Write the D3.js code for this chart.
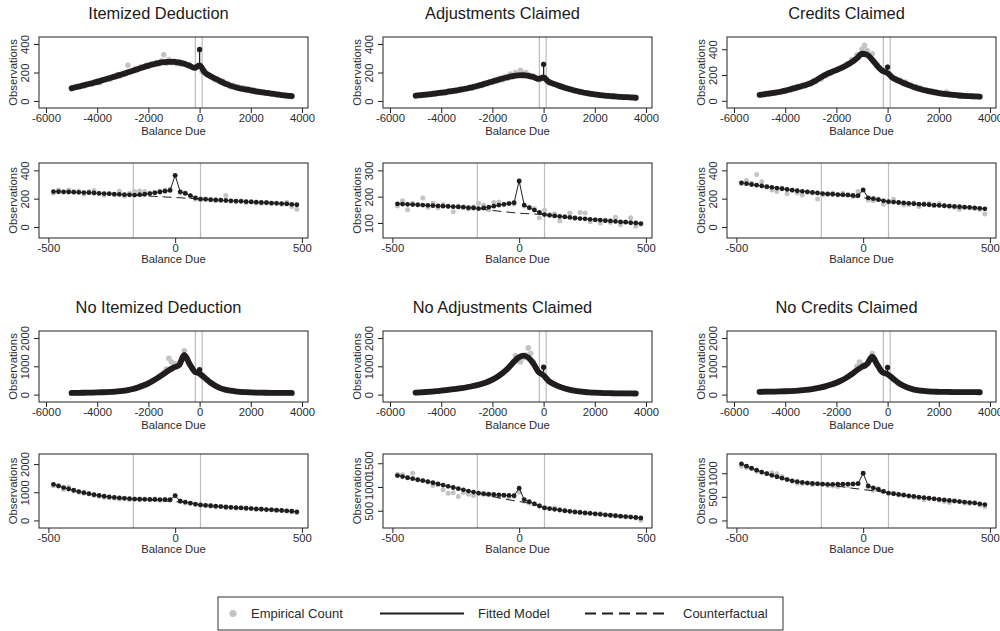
<!DOCTYPE html>
<html>
<head>
<meta charset="utf-8">
<script src="https://cdn.jsdelivr.net/npm/d3@7"></script>
<style>
  body { margin: 0; background: #fff; }
  svg { display: block; font-family: "Liberation Sans", Arial, sans-serif; }
</style>
</head>
<body>
<div id="chart"></div>
<script>
// ---- data ----
const titles = ["Itemized Deduction", "Adjustments Claimed", "Credits Claimed",
                "No Itemized Deduction", "No Adjustments Claimed", "No Credits Claimed"];

// bins for the full range (fitted every 200, empirical every 100)
const wideFitX = [-5000,-4800,-4600,-4400,-4200,-4000,-3800,-3600,-3400,-3200,-3000,-2800,-2600,-2400,-2200,-2000,-1800,-1600,-1400,-1200,-1000,-800,-600,-400,-200,
  0,200,400,600,800,1000,1200,1400,1600,1800,2000,2200,2400,2600,2800,3000,3200,3400,3600];
const wideEmpX = [-5000,-4900,-4800,-4700,-4600,-4500,-4400,-4300,-4200,-4100,-4000,-3900,-3800,-3700,-3600,-3500,-3400,-3300,-3200,-3100,
  -3000,-2900,-2800,-2700,-2600,-2500,-2400,-2300,-2200,-2100,-2000,-1900,-1800,-1700,-1600,-1500,-1400,-1300,-1200,-1100,
  -1000,-900,-800,-700,-600,-500,-400,-300,-200,-100,0,100,200,300,400,500,600,700,800,900,1000,1100,1200,1300,1400,1500,
  1600,1700,1800,1900,2000,2100,2200,2300,2400,2500,2600,2700,2800,2900,3000,3100,3200,3300,3400,3500,3600];
// bins for the window around zero
const zoomX = [-480,-460,-440,-420,-400,-380,-360,-340,-320,-300,-280,-260,-240,-220,-200,-180,-160,-140,-120,-100,-80,-60,-40,-20,
  0,20,40,60,80,100,120,140,160,180,200,220,240,260,280,300,320,340,360,380,400,420,440,460,480];
const cfX = [-160,-140,-120,-100,-80,-60,-40,-20,0,20,40,60,80,100];
const cutoffs = [-165, 100];

const wideTicksX = [-6000, -4000, -2000, 0, 2000, 4000];
const zoomTicksX = [-500, 0, 500];

// Itemized Deduction
const itemWideFit = [90,98,107,116,125,134,145,156,167,178,189,201,213,225,237,248,258,266,272,275,274,270,262,248,232,
  250,200,178,158,139,122,108,97,88,81,75,68,62,57,52,47,42,38,35];
const itemWideEmp = [85,95,105,98,112,105,120,125,118,135,140,130,150,148,160,152,170,168,185,175,
  190,200,250,205,215,228,220,240,235,250,245,260,255,270,262,280,325,265,290,268,
  280,262,275,258,265,250,255,240,230,245,360,205,210,185,175,170,150,155,135,140,118,
  125,100,110,95,100,85,92,78,85,72,78,65,70,60,65,55,58,50,52,45,48,40,42,36,38,30];
const itemSpike = 362;
const itemZoomFit = [250,249,248,247,246,245,243,242,240,238,236,234,232,230,228,227,225,228,231,236,241,247,253,258,
  365,248,237,222,205,197,195,193,191,189,187,185,183,181,179,177,175,173,171,169,167,165,163,160,157];
const itemZoomEmp = [240,262,245,262,250,255,232,250,258,236,225,240,228,252,218,238,250,255,250,240,245,255,262,268,
  360,240,242,215,195,193,200,190,185,188,222,182,178,185,172,180,170,168,175,165,170,160,175,145,125];
const itemZoomCf = [225,222,220,218,216,214,212,210,208,206,204,202,200,197];

// Adjustments Claimed
const adjWideFit = [37,41,45,49,53,58,63,69,75,81,88,96,105,115,126,137,148,158,167,175,180,181,177,168,155,
  165,135,120,107,95,84,74,66,58,52,47,42,38,35,32,29,27,25,23];
const adjWideEmp = [35,40,38,45,42,48,45,55,50,58,55,62,60,68,66,73,72,80,78,86,
  85,95,92,103,100,112,110,125,120,135,130,148,142,160,150,172,160,190,170,200,
  185,215,175,200,185,170,175,160,150,165,258,145,130,130,118,115,105,102,95,88,85,
  78,72,70,65,62,56,55,50,48,45,44,40,40,36,37,33,33,30,31,28,29,26,27,24,25,22];
const adjSpike = 258;
const adjZoomFit = [173,172,171,170,169,168,167,166,165,164,163,162,161,160,158,157,155,157,160,164,168,171,174,177,
  260,168,158,149,140,132,129,127,125,123,121,119,117,116,114,112,111,109,108,106,104,103,101,100,98];
const adjZoomEmp = [165,185,150,175,170,195,160,175,158,170,165,143,165,160,153,162,175,168,150,178,180,170,175,172,
  258,165,160,155,120,148,132,135,108,125,138,118,140,138,105,112,100,110,102,122,93,105,120,88,95];
const adjZoomCf = [155,152,149,147,145,143,141,139,137,136,135,134,133,132];

// Credits Claimed
const credWideFit = [46,51,57,63,70,79,89,100,111,122,137,158,182,205,222,238,255,275,300,330,365,358,318,270,232,
  215,178,158,140,123,108,95,84,75,67,60,54,49,45,41,38,36,34,33];
const credWideEmp = [45,50,48,55,52,60,58,68,65,75,72,85,82,98,95,112,105,125,118,135,
  130,155,150,175,170,200,195,220,215,235,240,250,260,270,285,290,320,310,355,345,
  400,430,390,345,365,300,280,255,230,240,262,200,180,175,155,160,135,145,120,125,105,
  110,92,98,82,88,72,78,65,70,58,62,52,68,48,50,44,46,40,42,36,38,35,36,32,34,28];
const credSpike = 262;
const credZoomFit = [312,306,300,295,290,285,280,275,270,265,260,256,252,248,244,240,236,233,231,229,227,225,223,222,
  262,206,200,193,185,179,176,173,170,167,164,161,159,157,154,152,150,147,145,143,140,138,135,132,128];
const credZoomEmp = [305,330,310,370,320,280,262,250,275,235,260,240,225,245,240,198,228,232,240,225,238,230,215,250,
  258,190,185,195,160,175,195,172,155,158,170,145,165,168,150,165,150,148,140,125,140,135,130,125,92];
const credZoomCf = [236,233,229,226,222,218,214,210,206,202,197,191,185,179];

// No Itemized Deduction
const noItemWideFit = [60,62,65,68,72,77,83,90,100,112,130,160,200,255,320,400,500,610,730,860,960,1040,1400,1100,820,
  740,600,440,320,230,175,140,115,98,86,78,72,68,65,63,61,60,59,58];
const noItemWideEmp = [50,55,58,60,60,62,65,68,70,72,75,78,82,86,90,95,102,108,115,125,
  140,150,170,185,210,230,270,300,340,370,420,460,520,560,640,700,780,900,1280,1150,
  1100,1050,1120,1250,1550,1300,1050,950,800,780,880,680,560,500,430,370,310,270,230,200,170,
  150,135,120,110,100,95,88,82,78,75,72,70,68,65,62,60,58,57,55,55,53,52,50,50,48,45];
const noItemSpike = 880;
const noItemZoomFit = [1280,1220,1165,1115,1070,1025,985,950,915,885,858,835,815,798,783,770,758,752,748,745,742,740,738,740,
  880,680,650,615,580,550,535,520,505,490,477,465,453,442,431,420,408,397,386,375,364,352,340,325,305];
const noItemZoomEmp = [1230,1250,1100,1180,1040,1000,960,940,880,860,820,800,790,760,790,740,760,750,760,730,760,720,750,720,
  870,690,620,600,560,540,520,510,480,500,460,470,430,450,420,430,390,410,380,390,350,360,330,320,270];
const noItemZoomCf = [758,745,732,720,708,697,686,675,665,655,640,610,578,550];

// No Adjustments Claimed
const noAdjWideFit = [70,80,92,105,120,140,160,182,205,230,260,295,335,385,445,530,630,760,920,1120,1300,1380,1310,1100,800,
  680,480,370,290,225,175,140,112,92,78,68,60,54,50,46,44,42,41,40];
const noAdjWideEmp = [65,72,78,85,90,96,102,110,118,128,135,148,155,170,178,192,200,218,225,245,
  255,280,290,318,330,360,380,415,440,490,520,570,620,690,750,830,900,1000,1150,1380,
  1200,1150,1300,1400,1650,1450,1150,950,800,750,960,560,470,410,360,320,280,250,220,195,170,
  155,135,125,110,100,90,84,76,72,66,62,58,56,52,50,48,46,45,44,43,42,41,40,40,39,38];
const noAdjSpike = 970;
const noAdjZoomFit = [1240,1220,1195,1175,1155,1135,1115,1090,1065,1040,1015,990,965,940,915,893,872,860,850,842,835,828,822,818,
  975,735,690,645,600,560,545,530,515,500,488,476,465,455,445,435,425,415,405,395,386,377,368,358,348];
const noAdjZoomEmp = [1270,1260,1200,1290,1150,1130,1100,1030,1050,940,870,880,800,880,850,820,860,840,830,820,800,810,790,800,
  890,700,660,640,610,570,550,560,530,500,490,470,475,450,455,430,440,410,400,395,380,370,375,350,300];
const noAdjZoomCf = [872,845,820,795,772,750,730,712,695,678,660,635,600,560];

// No Credits Claimed
const noCredWideFit = [100,102,105,108,112,118,125,135,148,165,188,218,255,300,355,420,500,600,720,860,980,1080,1340,1050,790,
  720,580,430,320,240,185,150,128,115,106,100,96,93,91,89,87,86,85,84];
const noCredWideEmp = [95,98,100,100,103,105,106,108,110,114,116,120,124,130,135,140,148,155,165,175,
  190,200,220,235,255,280,300,330,360,390,430,460,500,550,610,660,730,800,1000,1150,
  1050,1000,1100,1250,1450,1250,1050,880,780,760,960,640,560,490,420,370,320,280,240,210,185,
  165,150,140,128,120,114,108,105,102,100,97,95,93,92,90,90,88,88,86,86,85,84,84,83,83,80];
const noCredSpike = 960;
const noCredZoomFit = [1200,1150,1105,1065,1025,990,955,925,895,865,840,820,805,792,782,775,768,765,765,766,768,770,773,778,
  1000,730,690,655,615,580,565,550,536,522,508,495,482,470,458,446,434,422,411,400,389,378,367,352,335];
const noCredZoomEmp = [1150,1120,1100,1040,1020,1000,1010,990,930,870,830,790,780,800,760,790,770,740,730,720,760,740,760,790,
  990,700,640,670,620,570,570,540,550,510,490,480,440,470,460,430,400,380,420,400,370,360,380,320,290];
const noCredZoomCf = [768,752,738,724,710,695,680,668,655,640,628,615,600,580];

const yTicksSmall = [0, 200, 400];
const yTicksAdjZoom = [100, 200, 300];
const yTicksBig = [0, 1000, 2000];
const yTicksNoAdjZoom = [500, 1000, 1500];
const yTicksNoCredZoom = [0, 500, 1000];

const legendLabels = ["Empirical Count", "Fitted Model", "Counterfactual"];

// ---- layout ----
const width = 1000, height = 631;
const colLeft = [39, 383, 727];
const boxW = 269;
const rowTop = [37, 163, 331, 454];
const rowH = [71, 75, 71, 74];
const wideDomain = [-6273, 4234];
const zoomDomain = [-537, 524];
const ink = "#211d1e";
const grey = "#c4c4c4";
const textCol = "#2b2b2b";

const panels = [
  { col: 0, row: 0, title: titles[0], wide: true, fit: itemWideFit, emp: itemWideEmp, spike: itemSpike, yDomain: [-49, 449], yTicks: yTicksSmall },
  { col: 1, row: 0, title: titles[1], wide: true, fit: adjWideFit, emp: adjWideEmp, spike: adjSpike, yDomain: [-49, 449], yTicks: yTicksSmall },
  { col: 2, row: 0, title: titles[2], wide: true, fit: credWideFit, emp: credWideEmp, spike: credSpike, yDomain: [-56, 495], yTicks: yTicksSmall },
  { col: 0, row: 1, fit: itemZoomFit, emp: itemZoomEmp, cf: itemZoomCf, yDomain: [-78, 452], yTicks: yTicksSmall },
  { col: 1, row: 1, fit: adjZoomFit, emp: adjZoomEmp, cf: adjZoomCf, yDomain: [43, 328], yTicks: yTicksAdjZoom },
  { col: 2, row: 1, fit: credZoomFit, emp: credZoomEmp, cf: credZoomCf, yDomain: [-78, 452], yTicks: yTicksSmall },
  { col: 0, row: 2, title: titles[3], wide: true, fit: noItemWideFit, emp: noItemWideEmp, spike: noItemSpike, yDomain: [-261, 2247], yTicks: yTicksBig },
  { col: 1, row: 2, title: titles[4], wide: true, fit: noAdjWideFit, emp: noAdjWideEmp, spike: noAdjSpike, yDomain: [-261, 2247], yTicks: yTicksBig },
  { col: 2, row: 2, title: titles[5], wide: true, fit: noCredWideFit, emp: noCredWideEmp, spike: noCredSpike, yDomain: [-261, 2247], yTicks: yTicksBig },
  { col: 0, row: 3, fit: noItemZoomFit, emp: noItemZoomEmp, cf: noItemZoomCf, yDomain: [-269, 2357], yTicks: yTicksBig },
  { col: 1, row: 3, fit: noAdjZoomFit, emp: noAdjZoomEmp, cf: noAdjZoomCf, yDomain: [137, 1695], yTicks: yTicksNoAdjZoom },
  { col: 2, row: 3, fit: noCredZoomFit, emp: noCredZoomEmp, cf: noCredZoomCf, yDomain: [-160, 1407], yTicks: yTicksNoCredZoom }
];

const svg = d3.select("#chart").append("svg")
  .attr("width", width)
  .attr("height", height);

const fmtX = (d) => (d < 0 ? "-" + Math.abs(d) : String(d));

panels.forEach(drawPanel);

function drawPanel(p) {
  const left = colLeft[p.col];
  const top = rowTop[p.row];
  const h = rowH[p.row];
  const g = svg.append("g").attr("transform", `translate(${left},${top})`);

  const x = d3.scaleLinear().domain(p.wide ? wideDomain : zoomDomain).range([0, boxW]);
  const y = d3.scaleLinear().domain(p.yDomain).range([h, 0]);

  // title
  if (p.title) {
    svg.append("text")
      .attr("x", left + boxW / 2 - 15)
      .attr("y", top - 18.5)
      .attr("text-anchor", "middle")
      .attr("font-size", 16.4)
      .attr("fill", "#1a1a1a")
      .text(p.title);
  }

  // cutoff lines
  g.selectAll("line.cut")
    .data(cutoffs)
    .join("line")
    .attr("class", "cut")
    .attr("x1", (d) => x(d))
    .attr("x2", (d) => x(d))
    .attr("y1", 0)
    .attr("y2", h)
    .attr("stroke", "#bdbdbd")
    .attr("stroke-width", 1.2);

  const empX = p.wide ? wideEmpX : zoomX;
  const fitX = p.wide ? wideFitX : zoomX;
  const r = p.wide ? 2.8 : 2.5;

  // empirical counts
  g.append("g")
    .selectAll("circle")
    .data(p.emp)
    .join("circle")
    .attr("cx", (d, i) => x(empX[i]))
    .attr("cy", (d) => y(d))
    .attr("r", r)
    .attr("fill", grey);

  if (p.wide) {
    // dense fitted model, drawn as a thick band
    const line = d3.line()
      .x((d, i) => x(fitX[i]))
      .y((d) => y(d))
      .curve(d3.curveMonotoneX);
    g.append("path")
      .attr("d", line(p.fit))
      .attr("fill", "none")
      .attr("stroke", ink)
      .attr("stroke-width", 5.8)
      .attr("stroke-linecap", "round")
      .attr("stroke-linejoin", "round");

    // bunching spike at zero
    const base = p.fit[fitX.indexOf(0)];
    g.append("line")
      .attr("x1", x(0)).attr("x2", x(0))
      .attr("y1", y(base)).attr("y2", y(p.spike))
      .attr("stroke", ink)
      .attr("stroke-width", 1.3);
    g.append("circle")
      .attr("cx", x(0))
      .attr("cy", y(p.spike))
      .attr("r", 2.6)
      .attr("fill", ink);
  } else {
    // counterfactual
    const cfLine = d3.line()
      .x((d, i) => x(cfX[i]))
      .y((d) => y(d));
    g.append("path")
      .attr("d", cfLine(p.cf))
      .attr("fill", "none")
      .attr("stroke", ink)
      .attr("stroke-width", 1)
      .attr("stroke-dasharray", "9,5");

    const fitLine = d3.line()
      .x((d, i) => x(fitX[i]))
      .y((d) => y(d));
    g.append("path")
      .attr("d", fitLine(p.fit))
      .attr("fill", "none")
      .attr("stroke", ink)
      .attr("stroke-width", 1);

    g.append("g")
      .selectAll("circle")
      .data(p.fit)
      .join("circle")
      .attr("cx", (d, i) => x(fitX[i]))
      .attr("cy", (d) => y(d))
      .attr("r", 2.4)
      .attr("fill", ink);
  }

  // box
  g.append("rect")
    .attr("width", boxW)
    .attr("height", h)
    .attr("fill", "none")
    .attr("stroke", "#222")
    .attr("stroke-width", 1);

  // x axis
  g.append("g")
    .attr("transform", `translate(0,${h})`)
    .call(d3.axisBottom(x)
      .tickValues(p.wide ? wideTicksX : zoomTicksX)
      .tickSize(5)
      .tickPadding(1)
      .tickFormat(fmtX))
    .call((ax) => {
      ax.select(".domain").remove();
      ax.selectAll("line").attr("stroke", "#222");
      ax.selectAll("text")
        .attr("font-size", 11.3)
        .attr("font-family", "Liberation Sans, Arial, sans-serif")
        .attr("fill", textCol);
    });

  // y axis with rotated labels
  g.append("g")
    .call(d3.axisLeft(y).tickValues(p.yTicks).tickSize(5).tickFormat(d3.format("d")))
    .call((ax) => {
      ax.select(".domain").remove();
      ax.selectAll("line").attr("stroke", "#222");
      ax.selectAll("text")
        .attr("x", null)
        .attr("transform", "translate(-13.5,0) rotate(-90)")
        .attr("text-anchor", "middle")
        .attr("dy", "0.35em")
        .attr("font-size", 11.3)
        .attr("font-family", "Liberation Sans, Arial, sans-serif")
        .attr("fill", textCol);
    });

  // axis titles
  g.append("text")
    .attr("x", boxW / 2)
    .attr("y", h + (p.wide ? 27 : 24.5))
    .attr("text-anchor", "middle")
    .attr("font-size", 11.3)
    .attr("fill", textCol)
    .text("Balance Due");

  g.append("text")
    .attr("transform", `translate(-25.5,${h / 2}) rotate(-90)`)
    .attr("text-anchor", "middle")
    .attr("dy", "0.35em")
    .attr("font-size", 11.3)
    .attr("fill", textCol)
    .text("Observations");
}

// ---- legend ----
const legend = svg.append("g");
legend.append("rect")
  .attr("x", 218).attr("y", 597)
  .attr("width", 565).attr("height", 33)
  .attr("fill", "none")
  .attr("stroke", "#333")
  .attr("stroke-width", 1);

const ly = 613.5;
legend.append("circle").attr("cx", 233).attr("cy", ly).attr("r", 3.6).attr("fill", grey);
legend.append("line")
  .attr("x1", 380).attr("x2", 464).attr("y1", ly).attr("y2", ly)
  .attr("stroke", ink).attr("stroke-width", 1.8);
legend.append("line")
  .attr("x1", 585).attr("x2", 669).attr("y1", ly).attr("y2", ly)
  .attr("stroke", ink).attr("stroke-width", 1.8)
  .attr("stroke-dasharray", "11,6");

legend.selectAll("text")
  .data(legendLabels)
  .join("text")
  .attr("x", (d, i) => [251, 478, 683][i])
  .attr("y", ly)
  .attr("dy", "0.35em")
  .attr("font-size", 13)
  .attr("fill", textCol)
  .text((d) => d);
</script>
</body>
</html>
